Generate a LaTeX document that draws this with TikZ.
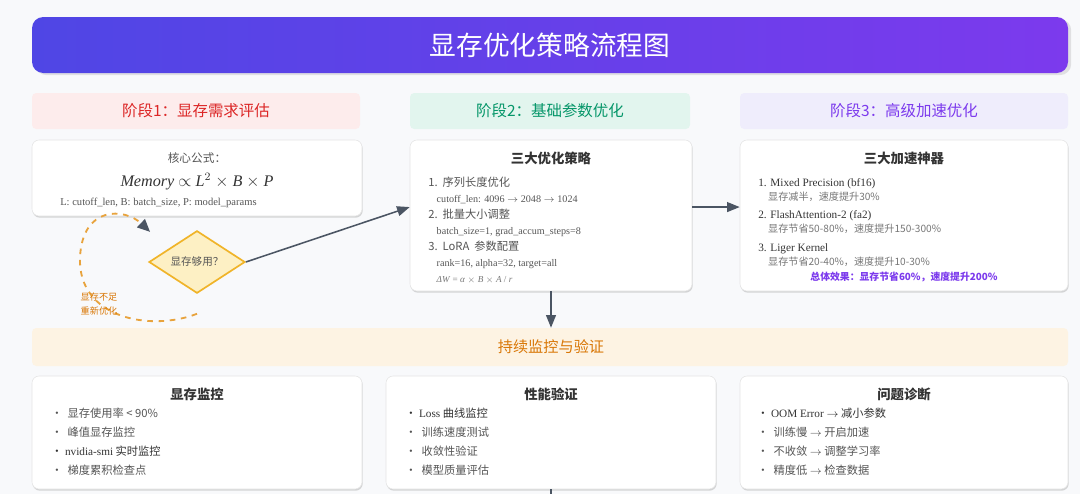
\documentclass[tikz,border=0pt]{standalone}
\usepackage{fontspec}
\setmainfont{Liberation Serif}
\newfontfamily\cjk{Noto Sans CJK SC}
\usetikzlibrary{shapes.geometric, arrows.meta, positioning, fit, shadows}
\definecolor{pagebg}{HTML}{F8F9FB}
\definecolor{ink}{HTML}{333333}
\definecolor{body}{HTML}{555555}
\definecolor{soft}{HTML}{777777}
\definecolor{arrowgray}{HTML}{4B5563}
\definecolor{indigo}{HTML}{4F46E5}
\definecolor{violet}{HTML}{7C3AED}
\definecolor{redtxt}{HTML}{DC2626}
\definecolor{redbg}{HTML}{FDECEC}
\definecolor{greentxt}{HTML}{059669}
\definecolor{greenbg}{HTML}{E2F5EE}
\definecolor{purpletxt}{HTML}{7C3AED}
\definecolor{purplebg}{HTML}{EFEDFC}
\definecolor{orangetxt}{HTML}{D97706}
\definecolor{orangebg}{HTML}{FDF3E3}
\definecolor{loopline}{HTML}{E8A33D}
\definecolor{diafill}{HTML}{FDF0C4}
\definecolor{diadraw}{HTML}{F0B429}
\newcommand\zh[1]{{\cjk #1}}

\begin{document}
\begin{tikzpicture}[x=0.025cm, y=-0.025cm,
  card/.style={rectangle, draw=black!10, fill=white, rounded corners=5pt, inner sep=0pt, drop shadow={shadow xshift=0.5pt, shadow yshift=-1.2pt, opacity=0.3}},
  stage/.style={rectangle, rounded corners=3pt, inner sep=0pt},
  stagetxt/.style={inner sep=0pt, font=\cjk\fontsize{11}{13}\selectfont},
  head/.style={inner sep=0pt, text=ink, font=\cjk\bfseries\fontsize{9.5}{12}\selectfont},
  txt/.style={align=left, inner sep=0pt, text=body},
  flow/.style={-{Triangle[length=9pt, width=7pt]}, line width=1.1pt, draw=arrowgray}]
  \fill[pagebg] (0,0) rectangle (1080,494);
  \useasboundingbox (0,0) rectangle (1080,494);

  % title
  \node[fit={(32,17) (1068,73)}, inner sep=0pt, rounded corners=8pt, left color=indigo, right color=violet, drop shadow={opacity=0.2, shadow yshift=-1.5pt}] (title) {};
  \node[inner sep=0pt, text=white, font=\cjk\fontsize{19}{22}\selectfont] (titletxt) at (title.center) {显存优化策略流程图};

  % stage headers
  \node[stage, fill=redbg, fit={(32,93) (360,129)}] (stage1) {};
  \node[stagetxt, text=redtxt] at (stage1.center) {阶段1：显存需求评估};
  \node[stage, fill=greenbg, fit={(410,93) (690,129)}] (stage2) {};
  \node[stagetxt, text=greentxt] at (stage2.center) {阶段2：基础参数优化};
  \node[stage, fill=purplebg, fit={(740,93) (1068,129)}] (stage3) {};
  \node[stagetxt, text=purpletxt] at (stage3.center) {阶段3：高级加速优化};

  % stage 1
  \node[card, fit={(32,140) (362,216)}] (need) {};
  \node[inner sep=0pt, text=body, font=\cjk\fontsize{8.3}{10}\selectfont] (needtitle) at (197,158) {核心公式：};
  \node[inner sep=0pt, text=ink, font=\fontsize{11.5}{13}\selectfont] (formula) at (197,182) {\textit{Memory} $\propto$ \textit{L}$^2$ $\times$ \textit{B} $\times$ \textit{P}};
  \node[inner sep=0pt, text=body, anchor=west, font=\fontsize{7.5}{9}\selectfont] (legend) at (60,203) {L: cutoff\_len, B: batch\_size, P: model\_params};

  \node[diamond, draw=diadraw, fill=diafill, line width=1.2pt, minimum width=2.4cm, minimum height=1.4cm, inner sep=0pt, text=body, font=\cjk\fontsize{7.5}{9}\selectfont] (check) at (197,262) {显存够用？};

  \draw[loopline, line width=1.3pt, dash pattern=on 4pt off 4pt, -{Triangle[length=9pt, width=8pt, color=arrowgray]}]
    ([yshift=-14pt]check.south) .. controls (150,332) and (78,318) .. (80,258)
    .. controls (82,205) and (125,208) .. ([shift={(-16pt,10pt)}]check.north west);
  \node[txt, text=orangetxt, font=\cjk\fontsize{6.5}{10}\selectfont] (retrylbl) at (99,304) {显存不足\\重新优化};

  % stage 2
  \node[card, fit={(410,140) (692,291)}] (strat) {};
  \node[head] (strathead) at (551,158) {三大优化策略};
  \node[txt, anchor=north west, font=\fontsize{7.2}{11.34}\selectfont] (strattxt) at (428,177) {
    \zh{\fontsize{8}{11.34}\selectfont 1.\ \ 序列长度优化}\\
    \hspace*{6pt}cutoff\_len: 4096 $\to$ 2048 $\to$ 1024\\
    \zh{\fontsize{8}{11.34}\selectfont 2.\ \ 批量大小调整}\\
    \hspace*{6pt}batch\_size=1, grad\_accum\_steps=8\\
    \zh{\fontsize{8}{11.34}\selectfont 3.\ \ LoRA\ \ 参数配置}\\
    \hspace*{6pt}rank=16, alpha=32, target=all\\
    \hspace*{6pt}{\color{soft}\fontsize{6.5}{11.34}\selectfont \textit{ΔW} = \textit{α} $\times$ \textit{B} $\times$ \textit{A} / \textit{r}}
  };

  % stage 3
  \node[card, fit={(740,140) (1068,291)}] (accel) {};
  \node[head] (accelhead) at (904,158) {三大加速神器};
  \node[txt, text=ink, anchor=north west, font=\fontsize{8}{9.9}\selectfont] (acceltxt) at (758,178) {
    1. Mixed Precision (bf16)\\
    \hspace*{7pt}\zh{\color{soft}\fontsize{7.2}{9.9}\selectfont 显存减半，速度提升30\%}\\[3.5pt]
    2. FlashAttention-2 (fa2)\\
    \hspace*{7pt}\zh{\color{soft}\fontsize{7.2}{9.9}\selectfont 显存节省50-80\%，速度提升150-300\%}\\[3.5pt]
    3. Liger Kernel\\
    \hspace*{7pt}\zh{\color{soft}\fontsize{7.2}{9.9}\selectfont 显存节省20-40\%，速度提升10-30\%}
  };
  \node[inner sep=0pt, text=purpletxt, font=\cjk\bfseries\fontsize{7}{9}\selectfont] (gain) at (904,277) {总体效果：显存节省60\%，速度提升200\%};

  % monitoring
  \node[fit={(32,328) (1068,366)}, inner sep=0pt, fill=orangebg, rounded corners=3pt] (monitor) {};
  \node[inner sep=0pt, text=orangetxt, font=\cjk\fontsize{10.8}{13}\selectfont] (monitortxt) at (551,347) {持续监控与验证};

  \node[card, fit={(32,376) (362,489)}] (mem) {};
  \node[head] (memhead) at (197,394) {显存监控};
  \node[txt, anchor=north west, font=\cjk\fontsize{8}{13.5}\selectfont] (memtxt) at (51,408) {
    •\ \ 显存使用率 < 90\%\\
    •\ \ 峰值显存监控\\
    {\color{ink}• {\rmfamily nvidia-smi} 实时监控}\\
    •\ \ 梯度累积检查点
  };

  \node[card, fit={(386,376) (716,489)}] (valid) {};
  \node[head] (validhead) at (551,394) {性能验证};
  \node[txt, anchor=north west, font=\cjk\fontsize{8}{13.5}\selectfont] (validtxt) at (405,408) {
    {\color{ink}• {\rmfamily Loss} 曲线监控}\\
    •\ \ 训练速度测试\\
    •\ \ 收敛性验证\\
    •\ \ 模型质量评估
  };

  \node[card, fit={(740,376) (1068,489)}] (diag) {};
  \node[head] (diaghead) at (904,394) {问题诊断};
  \node[txt, anchor=north west, font=\cjk\fontsize{8}{13.5}\selectfont] (diagtxt) at (757,408) {
    {\color{ink}• {\rmfamily OOM Error $\to$} 减小参数}\\
    •\ \ 训练慢 $\to$ 开启加速\\
    •\ \ 不收敛 $\to$ 调整学习率\\
    •\ \ 精度低 $\to$ 检查数据
  };

  % connectors
  \draw[flow] (check.east) -- ([yshift=6pt]strat.west);
  \draw[flow] ([yshift=6pt]strat.east) -- ([yshift=6pt]accel.west);
  \draw[flow] (strat.south) -- (strat.south |- monitor.north);
  \coordinate (tail) at (551,494);
  \draw[arrowgray, line width=1.1pt] (valid.south) -- (tail);
\end{tikzpicture}
\end{document}
